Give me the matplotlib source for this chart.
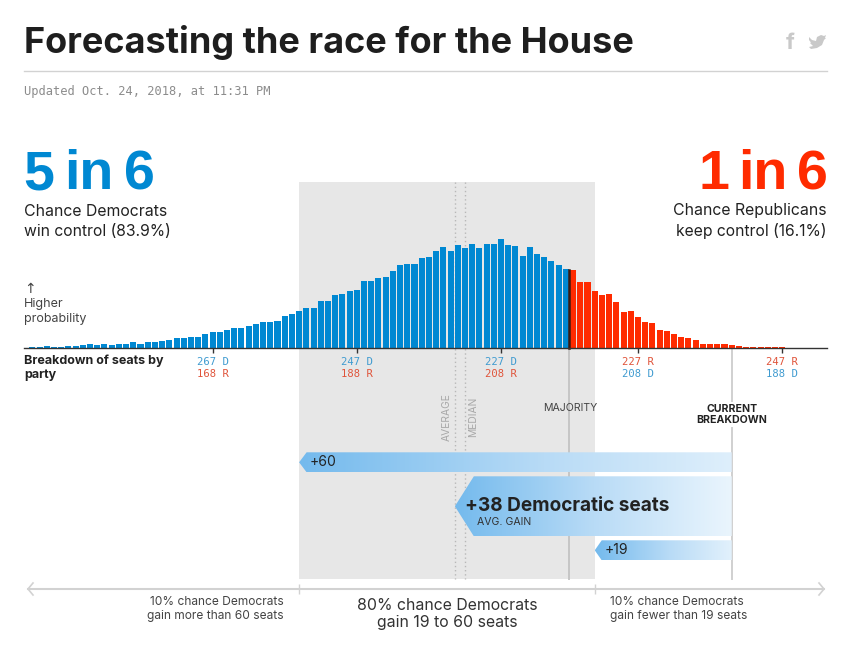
import numpy as np
from matplotlib import pyplot as plt
from matplotlib.colors import LinearSegmentedColormap
from matplotlib.patches import Polygon, Rectangle
from matplotlib.transforms import Affine2D

W, H = 853, 664

# chance of each seat total, in percent
dem_seats = list(range(292, 217, -1))
dem_probs = [
    0.007, 0.024, 0.041, 0.024, 0.024, 0.041, 0.041, 0.049, 0.073, 0.056,
    0.073, 0.056, 0.073, 0.08, 0.129, 0.097, 0.122, 0.122, 0.153, 0.187,
    0.226, 0.236, 0.267, 0.26, 0.316, 0.372, 0.382, 0.43, 0.479, 0.462,
    0.527, 0.576, 0.608, 0.608, 0.656, 0.761, 0.826, 0.875, 0.948, 0.948,
    1.125, 1.125, 1.264, 1.312, 1.361, 1.409, 1.628, 1.628, 1.677, 1.725,
    1.847, 2.0, 2.041, 2.024, 2.187, 2.211, 2.333, 2.454, 2.35, 2.479,
    2.406, 2.503, 2.43, 2.51, 2.503, 2.641, 2.486, 2.462, 2.228, 2.437,
    2.284, 2.211, 2.114, 2.01, 1.903,
]
rep_seats = list(range(217, 187, -1))
rep_probs = [
    1.895, 1.58, 1.587, 1.361, 1.264, 1.288, 1.094, 0.851, 0.882, 0.746,
    0.608, 0.59, 0.437, 0.396, 0.316, 0.267, 0.219, 0.177, 0.097, 0.097,
    0.08, 0.097, 0.066, 0.032, 0.024, 0.007, 0.017, 0.007, 0.007, 0.007,
]

tick_seats = [267, 247, 227, 208, 188]
tick_top = ["267 D", "247 D", "227 D", "227 R", "247 R"]
tick_bottom = ["168 R", "188 R", "208 R", "208 D", "188 D"]

current_seats = 195
average_seats = 233.4
median_seats = 232
majority_edge = 217.5
low_gain = 19
avg_gain = 38
high_gain = 60

BLUE = "#0088d2"
RED = "#ff2b00"
TICK_BLUE = "#3f9bd0"
TICK_RED = "#e0543a"
DARK = "#222222"
PANEL = "#e7e7e7"
RULE = "#d2d2d2"

SEAT_PX = 7.21
SEAT_227_PX = 501.0
BASE_PX = 347.5
PROB_PX = 0.0243

plt.rcParams["font.family"] = ["Inter", "DejaVu Sans"]
fig = plt.figure(figsize=(W / 100, H / 100), dpi=100)
ax = fig.add_axes([0, 0, 1, 1])
ax.set_xlim(227 + SEAT_227_PX / SEAT_PX, 227 - (W - SEAT_227_PX) / SEAT_PX)
ax.set_ylim(-(H - BASE_PX) * PROB_PX, BASE_PX * PROB_PX)
ax.axis("off")

# pixel positions for the page furniture
px = Affine2D().scale(1 / W, -1 / H).translate(0, 1) + fig.transFigure


def py(y):
    return (BASE_PX - y) * PROB_PX


def label(x, y, s, size, color=DARK, weight="normal", ha="left", va="center", **kw):
    return ax.text(x, y, s, fontsize=size, color=color, fontweight=weight,
                   ha=ha, va=va, transform=px, **kw)


# grey 80% band
ax.add_patch(Rectangle((current_seats + high_gain, py(579)), -(high_gain - low_gain),
                       py(182) - py(579), color=PANEL, lw=0, zorder=1))

# average and median
for s in [average_seats, median_seats]:
    ax.plot([s, s], [py(182), py(579)], color="#b8b8b8", lw=1, ls=(0, (1, 2)), zorder=2)

ax.plot([majority_edge, majority_edge], [0, py(579)], color="#c6c6c6", lw=1.4, zorder=2)
ax.plot([current_seats, current_seats], [0, py(579)], color="#d0d0d0", lw=1.4, zorder=2)

ax.bar(dem_seats, dem_probs, width=0.84, color=BLUE, lw=0, zorder=3)
ax.bar(rep_seats, rep_probs, width=0.84, color=RED, lw=0, zorder=3)
ax.plot([majority_edge, majority_edge], [0, rep_probs[0]], color="#3a1a10", lw=1.8, zorder=4)

# baseline and ticks
ax.plot([24, 827], [BASE_PX, BASE_PX], color="#333333", lw=1, transform=px, zorder=5)
ax.vlines(tick_seats, py(352.5), 0, color="#333333", lw=1, zorder=5)
for s, top, bottom in zip(tick_seats, tick_top, tick_bottom):
    x = SEAT_227_PX + (227 - s) * SEAT_PX
    if s == 208 or s == 188:
        top_c, bottom_c = TICK_RED, TICK_BLUE
    else:
        top_c, bottom_c = TICK_BLUE, TICK_RED
    label(x, 362, top, 7.6, top_c, ha="center", family="DejaVu Sans Mono")
    label(x, 374, bottom, 7.6, bottom_c, ha="center", family="DejaVu Sans Mono")

# gain arrows
ramp = LinearSegmentedColormap.from_list("gain", ["#74baed", "#b8dbf6", "#eaf5fd"])
gradient = np.linspace(0, 1, 256).reshape(1, -1)


def gain_arrow(tip, y0, y1, shoulder_px, end=1.0):
    shoulder = tip - shoulder_px / SEAT_PX
    pts = [(tip, py((y0 + y1) / 2)), (shoulder, py(y0)), (current_seats, py(y0)),
           (current_seats, py(y1)), (shoulder, py(y1))]
    poly = Polygon(pts, closed=True, transform=ax.transData, fc="none", ec="none")
    ax.add_patch(poly)
    im = ax.imshow(gradient * end, extent=[tip, current_seats, py(y1), py(y0)],
                   aspect="auto", cmap=ramp, vmin=0, vmax=1, zorder=6)
    im.set_clip_path(poly)


xlim, ylim = ax.get_xlim(), ax.get_ylim()
gain_arrow(current_seats + high_gain, 452.3, 472.3, 7.5, 0.88)
gain_arrow(average_seats, 476.3, 536.3, 19)
gain_arrow(current_seats + low_gain, 540.3, 560.3, 7, 0.92)
ax.set_xlim(xlim)
ax.set_ylim(ylim)

label(310, 462, f"+{high_gain}", 10, zorder=7)
label(465, 506, f"+{avg_gain} Democratic seats", 13.7, weight="bold", zorder=7)
label(477, 522, "AVG. GAIN", 7.6, "#333333", zorder=7)
label(605, 550.5, f"+{low_gain}", 10, zorder=7)

# title block
label(24, 52.5, "Forecasting the race for the House", 26, "#1e1e1e", weight="bold", va="baseline")
ax.plot([24, 827], [70.5, 70.5], color=RULE, lw=1, transform=px)
label(24, 91, "Updated Oct. 24, 2018, at 11:31 PM", 8.65, "#8c8c8c", family="DejaVu Sans Mono")

# share icons
label(790, 49, "f", 16, "#c9c9c9", weight="bold", ha="center", va="baseline")
bird = [(809, 37), (812, 40), (816, 41), (817, 37), (821, 35), (824, 36), (826, 35),
        (825, 38), (826, 38), (824, 40), (822, 45), (817, 48), (811, 49), (809, 47),
        (813, 46), (810, 43), (811, 42.5), (809, 40)]
ax.add_patch(Polygon(bird, closed=True, fc="#c9c9c9", ec="none", transform=px))

# headline odds, set tighter than a normal word space
odds = dict(size=40, weight="bold", va="baseline", family="Liberation Sans")
label(23, 189, "5", color=BLUE, **odds)
label(89, 189, "in", color=BLUE, ha="center", **odds)
label(155, 189, "6", color=BLUE, ha="right", **odds)
label(699, 189, "1", color=RED, **odds)
label(762.5, 189, "in", color=RED, ha="center", **odds)
label(828, 189, "6", color=RED, ha="right", **odds)
label(24, 211, "Chance Democrats", 11.4)
label(24, 231, "win control (83.9%)", 11.3)
label(827, 211, "Chance Republicans", 11.4, ha="right")
label(827, 231, "keep control (16.1%)", 11.3, ha="right")

label(24, 289, "↑", 10, "#444444", family="DejaVu Sans")
label(24, 304, "Higher", 9, "#444444")
label(24, 319, "probability", 9, "#444444")
label(24, 361, "Breakdown of seats by", 9, weight="bold")
label(24, 375, "party", 9, weight="bold")

# marker labels
label(447, 417, "AVERAGE", 7.4, "#a8a8a8", ha="center", rotation=90)
label(473, 417, "MEDIAN", 7.4, "#a8a8a8", ha="center", rotation=90)
label(570, 408, "MAJORITY", 7.6, "#444444", ha="center")
ax.add_patch(Rectangle((695, 402), 74, 25, fc="white", ec="none", transform=px, zorder=4))
label(732, 408.5, "CURRENT", 7.6, weight="bold", ha="center", zorder=5)
label(732, 420, "BREAKDOWN", 7.6, weight="bold", ha="center", zorder=5)

# bottom scale
ax.plot([28, 824], [589, 589], color=RULE, lw=1.5, transform=px)
ax.plot([33, 28, 33], [583, 589, 595], color=RULE, lw=1.2, transform=px)
ax.plot([819, 824, 819], [583, 589, 595], color=RULE, lw=1.2, transform=px)
ax.vlines([current_seats + high_gain, current_seats + low_gain], py(594), py(584), color=RULE, lw=1)

label(284, 602, "10% chance Democrats", 8.6, "#444444", ha="right")
label(284, 616, f"gain more than {high_gain} seats", 8.6, "#444444", ha="right")
label(447, 605, "80% chance Democrats", 11.4, "#333333", ha="center")
label(447, 622, f"gain {low_gain} to {high_gain} seats", 11.4, "#333333", ha="center")
label(610, 602, "10% chance Democrats", 8.6, "#444444")
label(610, 616, f"gain fewer than {low_gain} seats", 8.6, "#444444")

fig.savefig("out.png", dpi=100)
